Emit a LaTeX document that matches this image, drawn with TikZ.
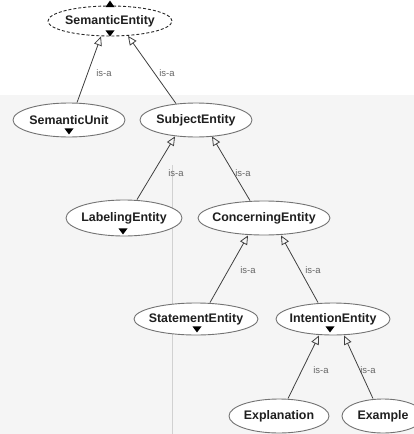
\documentclass[tikz,border=0pt]{standalone}
\usepackage{fontspec}
\setmainfont{Liberation Sans}
\usetikzlibrary{shapes.geometric,arrows.meta,calc}
\begin{document}
\begin{tikzpicture}[x=1pt,y=-1pt,
  ent/.style={ellipse, draw=black!55, line width=0.9pt, fill=white,
    inner xsep=-12pt, inner ysep=0pt,
    font=\fontsize{12.4}{14}\selectfont\bfseries, text=black!88},
  isa/.style={draw=black!75, line width=0.8pt, -{Triangle[open,length=9pt,width=8pt]}},
  lbl/.style={font=\fontsize{9.5}{11}\selectfont, text=black!60, inner sep=0pt},
  collapsed/.style={fill=black}
]
\useasboundingbox (0,0) rectangle (414,434);
% faint scanned background
\fill[white] (0,0) rectangle (414,434);
\fill[black!4] (0,95) rectangle (414,434);
\draw[black!18, line width=1pt] (172,165) -- (172,434);

% nodes
\node[ent, draw=black!85, dash pattern=on 3pt off 2pt, minimum width=124pt, minimum height=30pt] (se) at (110,21) {SemanticEntity};
\node[ent, minimum width=112pt, minimum height=34pt] (su) at (69,120) {SemanticUnit};
\node[ent, minimum width=112pt, minimum height=34pt] (sj) at (196,120) {SubjectEntity};
\node[ent, minimum width=116pt, minimum height=36pt] (le) at (124,218) {LabelingEntity};
\node[ent, minimum width=132pt, minimum height=34pt] (ce) at (264,218) {ConcerningEntity};
\node[ent, minimum width=124pt, minimum height=32pt] (st) at (196,319) {StatementEntity};
\node[ent, minimum width=114pt, minimum height=32pt] (ie) at (333,319) {IntentionEntity};
\node[ent, minimum width=100pt, minimum height=34pt] (ex) at (279,416) {Explanation};
\node[ent, minimum width=82pt, minimum height=34pt] (em) at (383,416) {Example};

% collapse markers
\fill[collapsed] ([shift={(-4.5,1.5)}]se.north) -- ++(9,0) -- ++(-4.5,-6.5) -- cycle;
\fill[collapsed] ([shift={(-4.5,-6)}]se.south) -- ++(9,0) -- ++(-4.5,6) -- cycle;
\fill[collapsed] ([shift={(-4.5,-9)}]su.south) -- ++(9,0) -- ++(-4.5,6) -- cycle;
\fill[collapsed] ([shift={(-5.5,-8)}]le.south) -- ++(9,0) -- ++(-4.5,6) -- cycle;
\fill[collapsed] ([shift={(-3.5,-9)}]st.south) -- ++(9,0) -- ++(-4.5,6) -- cycle;
\fill[collapsed] ([shift={(-7.5,-9)}]ie.south) -- ++(9,0) -- ++(-4.5,6) -- cycle;

% is-a connectors
\draw[isa] ($(su.north)+(8,0)$) -- ($(se.south)+(-9,0)$);
\draw[isa] ($(sj.north)+(-20,1)$) -- ($(se.south)+(18,-0.5)$);
\draw[isa] ($(le.north)+(13,0)$) -- ($(sj.south)+(-21,-1)$);
\draw[isa] ($(ce.north)+(-14,0)$) -- ($(sj.south)+(16,-1)$);
\draw[isa] ($(st.north)+(14,0)$) -- ($(ce.south)+(-16,0)$);
\draw[isa] ($(ie.north)+(-15,0)$) -- ($(ce.south)+(17,0)$);
\draw[isa] ($(ex.north)+(9,0)$) -- ($(ie.south)+(-14,0)$);
\draw[isa] ($(em.north)+(-10,0)$) -- ($(ie.south)+(11,0)$);

% labels
\node[lbl] (l1) at (104,73) {is-a};
\node[lbl] (l2) at (167,73) {is-a};
\node[lbl] (l3) at (176,173) {is-a};
\node[lbl] (l4) at (243,173) {is-a};
\node[lbl] (l5) at (248,270) {is-a};
\node[lbl] (l6) at (313,270) {is-a};
\node[lbl] (l7) at (321,370) {is-a};
\node[lbl] (l8) at (368,370) {is-a};
\end{tikzpicture}
\end{document}
